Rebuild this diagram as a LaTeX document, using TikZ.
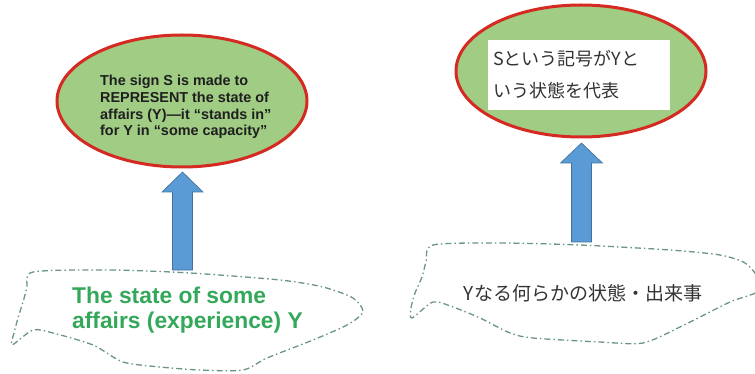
\documentclass[tikz,border=0pt]{standalone}
\usepackage{fontspec}
\setmainfont{Liberation Sans}
\newfontfamily\cjk{Noto Sans CJK JP}
\usetikzlibrary{shapes.geometric,calc}
\definecolor{fillg}{HTML}{A0CC84}
\definecolor{bred}{HTML}{D42A22}
\definecolor{ablue}{HTML}{5B9BD5}
\definecolor{ablueb}{HTML}{41719C}
\definecolor{cloudc}{HTML}{6A9585}
\definecolor{txtg}{HTML}{34A85A}
\begin{document}
\begin{tikzpicture}[x=1pt,y=-1pt,
  sign/.style={ellipse,draw=bred,line width=3pt,fill=fillg,minimum width=250pt,minimum height=132pt,inner sep=0pt},
  cloudline/.style={draw=cloudc,line width=1.3pt,dash pattern=on 6pt off 3pt on 1.5pt off 3pt},
  blockarrow/.style={fill=ablue,draw=ablueb,line width=0.6pt},
]
\useasboundingbox (0,0) rectangle (755,374);

% ellipses
\node[sign] (e1) at (182,101) {};
\node[sign] (e2) at (581,71) {};

\node[anchor=west,align=left,inner sep=0pt,text=black!88,
      font=\bfseries\fontsize{14.4}{16.8}\selectfont] (t1) at (100,107)
  {The sign S is made to\\REPRESENT the state of\\affairs (Y)—it “stands in”\\for Y in “some capacity”};

\node[fill=white,align=left,inner xsep=5pt,inner ysep=0pt,text width=172pt,minimum height=70pt,
      text=black!80,font=\cjk\fontsize{18}{32}\selectfont] (t2) at (579,75)
  {Sという記号がYと\\いう状態を代表};

% clouds
\draw[cloudline] plot[smooth cycle,tension=0.45] coordinates {
  (33,272) (110,270) (190,273) (280,280) (323,287) (353,298) (363,312)
  (347,325) (313,340) (267,358) (243,370) (200,370) (160,367) (123,362)
  (93,345) (53,333) (33,330) (12,345) (14,333) (18,318) (23,302) (27,288)};
\draw[cloudline] plot[smooth cycle,tension=0.45] coordinates {
  (433,245) (500,243) (580,245) (670,250) (720,255) (745,263) (758,278)
  (757,292) (730,302) (680,327) (643,343) (600,342) (533,338) (510,333)
  (480,318) (453,307) (433,302) (412,318) (411,308) (415,293) (422,277) (426,262)};

\node[anchor=west,align=left,inner sep=0pt,text=txtg,
      font=\bfseries\fontsize{22.8}{25}\selectfont] (c1) at (72,310)
  {The state of some\\affairs (experience) Y};
\node[inner sep=0pt,text=black!80,font=\cjk\fontsize{19}{22}\selectfont] (c2) at (583,293)
  {Yなる何らかの状態・出来事};

% block arrows
\coordinate (b1) at (182.5,270);
\coordinate (h1) at (182.5,192);
\coordinate (p1) at (182.5,172);
\draw[blockarrow] ($(b1)+(-10,0)$) -- ($(h1)+(-10,0)$) -- ($(h1)+(-20.5,0)$) -- (p1)
  -- ($(h1)+(20.5,0)$) -- ($(h1)+(10,0)$) -- ($(b1)+(10,0)$) -- cycle;
\coordinate (b2) at (581.5,242);
\coordinate (h2) at (581.5,163);
\coordinate (p2) at (581.5,143);
\draw[blockarrow] ($(b2)+(-10,0)$) -- ($(h2)+(-10,0)$) -- ($(h2)+(-21,0)$) -- (p2)
  -- ($(h2)+(21,0)$) -- ($(h2)+(10,0)$) -- ($(b2)+(10,0)$) -- cycle;
\end{tikzpicture}
\end{document}
